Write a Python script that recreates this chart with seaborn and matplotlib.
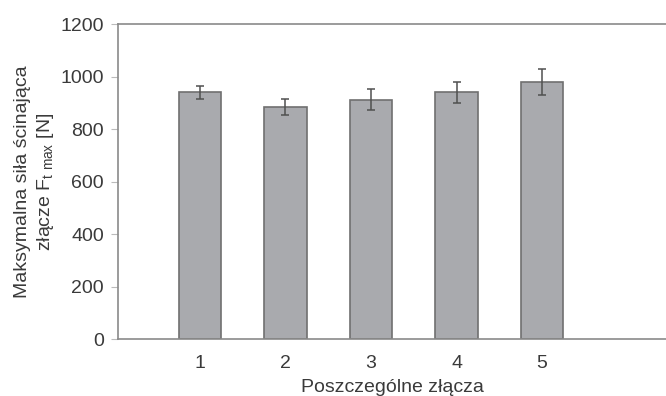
import numpy as np
import pandas as pd
import seaborn as sns
import matplotlib.pyplot as plt

# data
joints = ['1', '2', '3', '4', '5']
force_max = [940, 885, 912, 940, 980]
force_err = [25, 31, 40, 40, 50]

df = pd.DataFrame({'joint': joints, 'force': force_max})

sns.set_style('white')
plt.rcParams['font.family'] = ['Liberation Sans', 'DejaVu Sans']
plt.rcParams['mathtext.fontset'] = 'custom'
plt.rcParams['mathtext.rm'] = 'Liberation Sans'

text_col = '#3a3a3a'
spine_col = '#8a8a8a'

fig = plt.figure(figsize=(6.66, 3.96), dpi=100)
ax = fig.add_axes([0.177, 0.143, 0.823, 0.796])

sns.barplot(data=df, x='joint', y='force', color='#a9aaae', width=0.5,
            edgecolor='#707070', linewidth=1.2, saturation=1, ax=ax)
ax.errorbar(np.arange(len(joints)), force_max, yerr=force_err, fmt='none',
            ecolor='#505050', elinewidth=1.1, capsize=3, capthick=1.1)

ax.set_ylim(0, 1200)
ax.set_yticks(range(0, 1201, 200))
ax.set_xlim(-0.96, 5.45)

for side in ['left', 'bottom', 'top']:
    ax.spines[side].set_color(spine_col)
    ax.spines[side].set_linewidth(1.2)
ax.spines['right'].set_visible(False)

ax.tick_params(axis='y', left=True, length=5, width=0.8, color='#bbbbbb',
               labelsize=14, labelcolor=text_col, pad=5)
ax.tick_params(axis='x', bottom=False, labelsize=14, labelcolor=text_col, pad=8)

ax.set_xlabel('Poszczególne złącza', fontsize=14, color=text_col, labelpad=5)
ax.set_ylabel('Maksymalna siła ścinająca\nzłącze F$_{\\mathrm{t\\ max}}$ [N]',
              fontsize=14, color=text_col, labelpad=3, linespacing=1.3)

fig.savefig('out.png', dpi=100)
